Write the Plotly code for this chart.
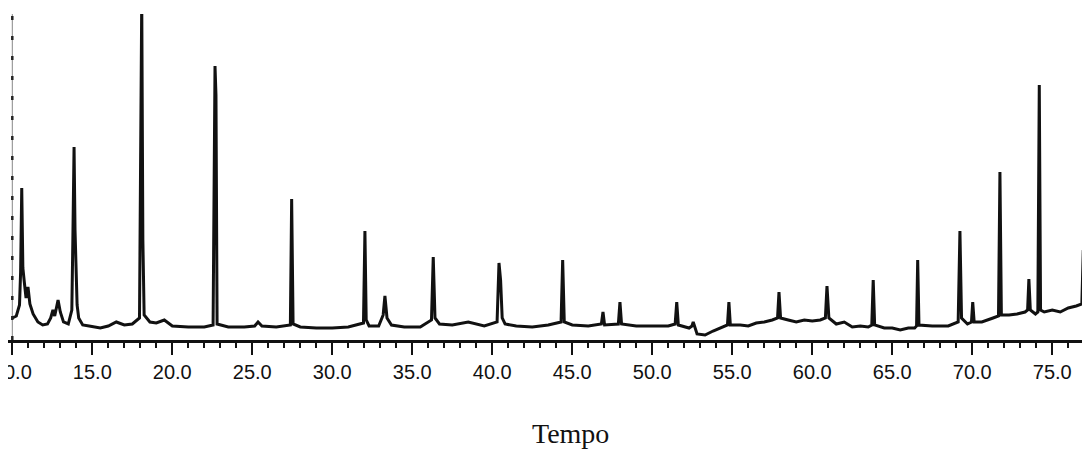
import plotly.graph_objects as go

# Retention time (minutes) and detector signal (arbitrary units)
time = [
    10.0, 10.25, 10.45, 10.52, 10.59, 10.66, 10.75, 10.86, 10.98, 11.1, 11.3, 11.6, 11.9,
    12.2, 12.4, 12.54, 12.65, 12.86, 13.0, 13.2, 13.5, 13.72, 13.78, 13.86, 13.92, 13.98,
    14.05, 14.15, 14.4, 14.8, 15.5, 16.0, 16.5, 17.0, 17.5, 17.95, 18.02, 18.09, 18.16,
    18.24, 18.6, 19.0, 19.5, 20.0, 21.0, 22.0, 22.55, 22.62, 22.67, 22.73, 22.8, 23.5,
    24.5, 25.15, 25.36, 25.6, 26.5, 27.38, 27.46, 27.55, 28.0, 29.0, 30.0, 31.0, 31.95,
    32.04, 32.12, 32.3, 32.9, 33.18, 33.29, 33.42, 33.7, 34.5, 35.5, 36.2, 36.31, 36.42,
    36.7, 37.5, 38.5, 39.5, 40.3, 40.42, 40.52, 40.62, 40.8, 41.5, 42.5, 43.5, 44.3,
    44.4, 44.5, 45.0, 46.0, 46.82, 46.92, 47.02, 47.88, 47.98, 48.08, 49.0, 50.0, 51.0,
    51.43, 51.53, 51.63, 52.3, 52.48, 52.56, 52.8, 53.3, 53.8, 54.3, 54.7, 54.79, 54.88,
    55.5, 56.0, 56.5, 57.0, 57.5, 57.83, 57.92, 58.02, 58.5, 59.0, 59.5, 60.0, 60.5,
    60.82, 60.92, 61.04, 61.5, 62.0, 62.5, 63.0, 63.5, 63.72, 63.81, 63.9, 64.5, 65.0,
    65.5, 66.0, 66.4, 66.52, 66.59, 66.67, 67.5, 68.5, 69.12, 69.23, 69.33, 69.7, 69.95,
    70.03, 70.12, 70.6, 71.3, 71.64, 71.73, 71.82, 72.3, 72.8, 73.3, 73.46, 73.54, 73.63,
    73.95, 74.1, 74.19, 74.27, 74.5, 75.0, 75.5, 76.0, 76.5, 76.85, 76.94, 77.03, 77.36,
]
signal = [
    22, 24, 35, 68, 152, 72, 58, 42, 53, 36, 26, 18, 15,
    16, 22, 30, 24, 40, 28, 18, 16, 30, 95, 193, 110, 60,
    35, 22, 15, 14, 12, 14, 18, 15, 16, 22, 200, 340, 100,
    25, 18, 17, 20, 14, 13, 13, 15, 250, 274, 245, 16, 13,
    13, 14, 18, 14, 13, 15, 141, 16, 13, 12, 12, 13, 17,
    109, 20, 14, 14, 25, 44, 22, 15, 13, 13, 20, 83, 22,
    16, 15, 18, 14, 18, 77, 60, 22, 16, 14, 13, 15, 18,
    80, 18, 15, 14, 16, 28, 15, 16, 38, 16, 14, 14, 14,
    16, 38, 15, 12, 14, 18, 6, 5, 9, 12, 15, 38, 15,
    15, 14, 17, 18, 20, 22, 48, 22, 20, 18, 20, 19, 20,
    22, 54, 22, 16, 18, 13, 14, 13, 15, 60, 15, 12, 12,
    10, 12, 12, 14, 80, 15, 14, 14, 18, 109, 22, 16, 18,
    38, 18, 18, 22, 24, 168, 25, 25, 26, 28, 30, 61, 30,
    26, 28, 255, 30, 28, 30, 28, 32, 34, 36, 90, 50, 45,
]

x_range = [9.731, 77.36]
y_range = [0, 326]
tick_values = [10, 15, 20, 25, 30, 35, 40, 45, 50, 55, 60, 65, 70, 75]
tick_text = ["10.0", "15.0", "20.0", "25.0", "30.0", "35.0", "40.0", "45.0",
             "50.0", "55.0", "60.0", "65.0", "70.0", "75.0"]
x_title = "Tempo"

fig = go.Figure()
fig.add_trace(go.Scatter(
    x=time, y=signal, mode="lines",
    line=dict(color="#111111", width=3),
    hoverinfo="skip", showlegend=False,
))

# left dashed signal axis at t = 10
fig.add_shape(type="line", xref="x", yref="paper", x0=10, x1=10, y0=0, y1=1,
              line=dict(color="#888888", width=1))
fig.add_shape(type="line", xref="x", yref="paper", x0=10, x1=10, y0=0, y1=1,
              line=dict(color="#222222", width=2.5, dash="4px,16px"))

fig.update_xaxes(
    range=x_range, showgrid=False, zeroline=False, automargin=False,
    showline=True, linecolor="#111111", linewidth=2.5,
    ticks="outside", tickvals=tick_values, ticktext=tick_text,
    ticklen=12, tickwidth=2, tickcolor="#111111", ticklabeloverflow="allow",
    minor=dict(ticks="outside", dtick=1, tick0=10, ticklen=5, tickwidth=2, tickcolor="#111111"),
    tickfont=dict(family="Liberation Sans, Arial, sans-serif", size=20, color="#111111"),
)
fig.update_yaxes(range=y_range, visible=False, showgrid=False, zeroline=False, automargin=False)

fig.add_annotation(
    text=x_title, xref="paper", yref="paper", x=0.520, y=-0.288,
    xanchor="center", yanchor="middle", showarrow=False,
    font=dict(family="Liberation Serif, Times New Roman, serif", size=28, color="#111111"),
)

# the page body adds an 8px offset, so the figure is sized to fill the rest of the window
fig.update_layout(
    width=1082, height=445,
    margin=dict(l=0, r=0, t=6, b=113),
    paper_bgcolor="white", plot_bgcolor="white",
)

fig.write_html("out.html")
